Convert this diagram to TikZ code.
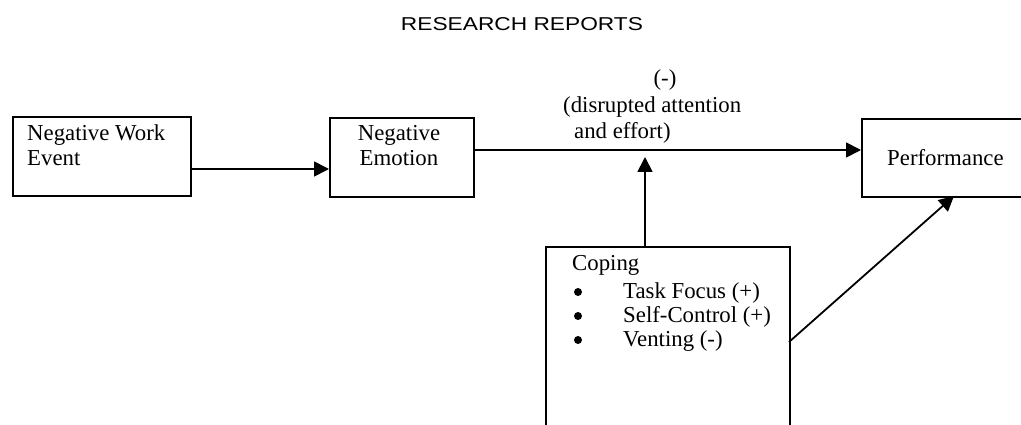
\documentclass[tikz,border=0pt]{standalone}
\usepackage{fontspec}
\usepackage{graphicx}
\setmainfont{Liberation Serif}
\setsansfont{Liberation Sans}
\usetikzlibrary{arrows.meta}
\tikzset{
  box/.style={draw, line width=1.8pt, inner sep=0pt},
  lbl/.style={inner sep=0pt, font=\fontsize{22.8}{25}\selectfont},
  arr/.style={line width=1.8pt, -{Triangle[length=15pt,width=15pt]}},
  bul/.style={circle, fill, inner sep=0pt, minimum size=8pt}
}
\begin{document}
\begin{tikzpicture}[x=1pt,y=-1pt]
\clip (0,0) rectangle (1021,425);
\fill[white] (0,0) rectangle (1021,425);
% title
\node[inner sep=0pt] (title) at (522,24.5) {\resizebox{242pt}{13pt}{\sffamily RESEARCH REPORTS}};
% boxes
\node[box, anchor=north west, minimum width=178pt, minimum height=79pt] (b1) at (12,116) {};
\node[box, anchor=north west, minimum width=144pt, minimum height=79pt] (b2) at (329,117) {};
\node[box, anchor=north west, minimum width=200pt, minimum height=78pt] (perf) at (861,118) {};
\node[box, anchor=north west, minimum width=244pt, minimum height=220pt] (cop) at (545,246) {};
% texts
\node[lbl, anchor=base west] (t1a) at (27,141) {Negative Work};
\node[lbl, anchor=base west] (t1b) at (27,166) {Event};
\node[lbl, anchor=base] (t2a) at (399,141) {Negative};
\node[lbl, anchor=base] (t2b) at (399,166) {Emotion};
\node[lbl, anchor=base west] (t3) at (887,166) {Performance};
\node[lbl, anchor=base] (m1) at (665,86) {(-)};
\node[lbl, anchor=base west] (m2) at (563,113) {(disrupted attention};
\node[lbl, anchor=base west] (m3) at (574,139) {and effort)};
\node[lbl, anchor=base west] (c0) at (572,270) {Coping};
\node[lbl, anchor=base west] (c1) at (623,298) {Task Focus (+)};
\node[lbl, anchor=base west] (c2) at (623,322) {Self-Control (+)};
\node[lbl, anchor=base west] (c3) at (623,346) {Venting (-)};
\node[bul] (d1) at (578,292) {};
\node[bul] (d2) at (578,316) {};
\node[bul] (d3) at (578,340) {};
% connectors
\coordinate (y1) at (0,169);
\coordinate (y2) at (0,150);
\coordinate (vx) at (645,0);
\coordinate (vtip) at (645,157);
\coordinate (dstart) at (789,342);
\coordinate (dtip) at (954,196);
\draw[arr] (b1.east |- y1) -- (b2.west |- y1);
\draw[arr] (b2.east |- y2) -- (perf.west |- y2);
\draw[arr] (cop.north -| vx) -- (vtip);
\draw[arr] (dstart) -- (dtip);
\end{tikzpicture}
\end{document}
